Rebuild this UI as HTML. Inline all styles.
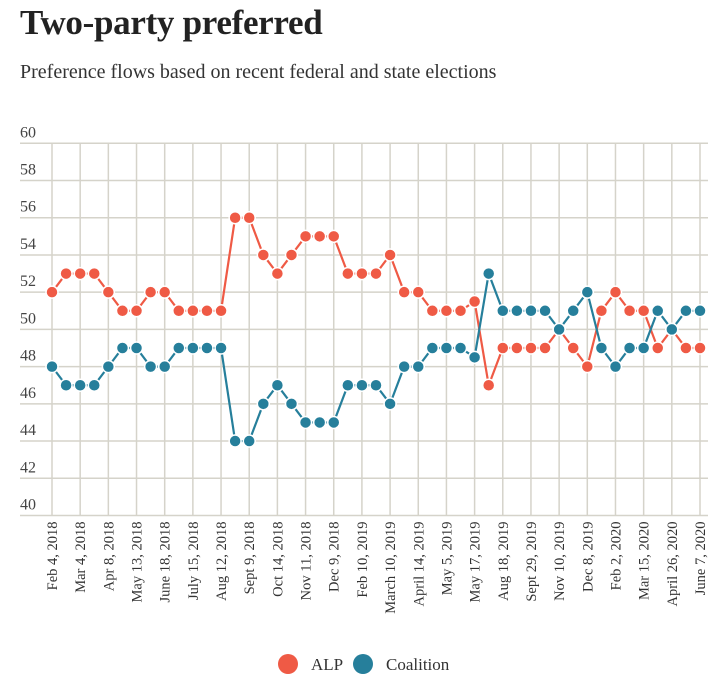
<!DOCTYPE html>
<html><head><meta charset="utf-8"><style>
body{margin:0;background:#fff;width:722px;height:688px;overflow:hidden;font-family:"Liberation Serif",serif;}
#t{position:absolute;left:20px;top:3px;font-size:35px;font-weight:bold;color:#222;margin:0;letter-spacing:-0.3px}
#s{position:absolute;left:20px;top:61px;font-size:20px;color:#333;margin:0}
svg{position:absolute;left:0;top:0}
</style></head><body>
<h1 id="t">Two-party preferred</h1>
<p id="s">Preference flows based on recent federal and state elections</p>
<svg id="c" width="722" height="688"></svg>
<script>
const labels=["Feb 4, 2018","Mar 4, 2018","Apr 8, 2018","May 13, 2018","June 18, 2018","July 15, 2018","Aug 12, 2018","Sept 9, 2018","Oct 14, 2018","Nov 11, 2018","Dec 9, 2018","Feb 10, 2019","March 10, 2019","April 14, 2019","May 5, 2019","May 17, 2019","Aug 18, 2019","Sept 29, 2019","Nov 10, 2019","Dec 8, 2019","Feb 2, 2020","Mar 15, 2020","April 26, 2020","June 7, 2020"];
const alp=[52,53,53,53,52,51,51,52,52,51,51,51,51,56,56,54,53,54,55,55,55,53,53,53,54,52,52,51,51,51,51.5,47,49,49,49,49,50,49,48,51,52,51,51,49,50,49,49];
const coalition=[48,47,47,47,48,49,49,48,48,49,49,49,49,44,44,46,47,46,45,45,45,47,47,47,46,48,48,49,49,49,48.5,53,51,51,51,51,50,51,52,49,48,49,49,51,50,51,51];
const yTicks=[40,42,44,46,48,50,52,54,56,58,60];
const NS="http://www.w3.org/2000/svg";
const svg=document.getElementById('c');
const x0=52,x1=700,y0=515.5,y1=143.3;
const n=alp.length;
const X=i=>x0+i*(x1-x0)/(n-1);
const Y=v=>y0-(v-40)*(y0-y1)/20;
function el(t,a){const e=document.createElementNS(NS,t);for(const k in a)e.setAttribute(k,a[k]);svg.appendChild(e);return e;}
yTicks.forEach(v=>{
 const l=el('line',{x1:20,x2:708,y1:Y(v),y2:Y(v),stroke:'#d5d3ca','stroke-width':1.5});
 
 
 const t=el('text',{x:20,y:Y(v)-6,'font-size':16,fill:'#444','font-family':'Liberation Serif, serif'});
 t.textContent=v;
 
 
});
labels.forEach((lb,k)=>{
 const x=X(k*2);
 const l=el('line',{x1:x,x2:x,y1:y1,y2:y0,stroke:'#d5d3ca','stroke-width':1.5});
 
 
 const t=el('text',{x:0,y:0,'font-size':14.5,fill:'#333','text-anchor':'end','font-family':'Liberation Serif, serif',transform:`translate(${x+5},${y0+6}) rotate(-90)`});
 t.textContent=lb;
 
 
});
function series(vals,color,name){
 const p=el('polyline',{points:vals.map((v,i)=>X(i)+','+Y(v)).join(' '),fill:'none',stroke:color,'stroke-width':2.2});
 
 
 vals.forEach((v,i)=>{
  const c=el('circle',{cx:X(i),cy:Y(v),r:6,fill:color,stroke:'#fff','stroke-width':1.5});
  
  
 });
}
series(alp,'#ef5a45','alp');
series(coalition,'#267f9b','coalition');
const lg=[['ALP','#ef5a45',288],['Coalition','#267f9b',363]];
lg.forEach(([nm,col,x])=>{
 const c=el('circle',{cx:x,cy:664,r:10,fill:col});
 
 
 const t=el('text',{x:x+23,y:670,'font-size':17,fill:'#333','font-family':'Liberation Serif, serif'});
 t.textContent=nm;
 
 
});
</script>
</body></html>
